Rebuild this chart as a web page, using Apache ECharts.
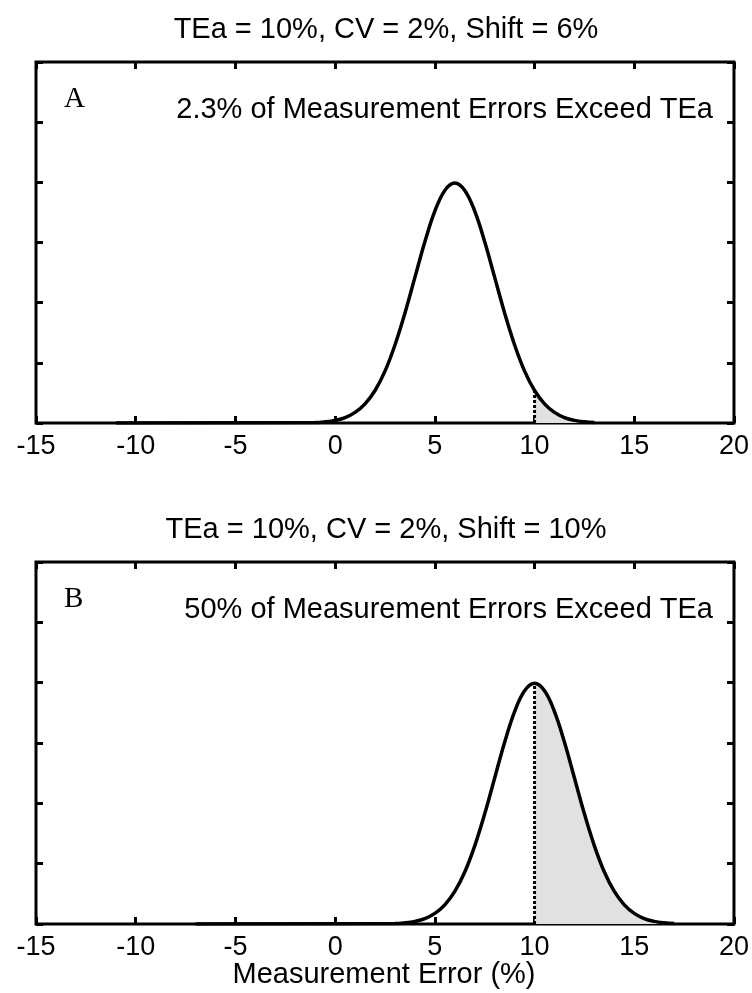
<!DOCTYPE html>
<html>
<head>
<meta charset="utf-8">
<script src="https://cdn.jsdelivr.net/npm/echarts@6/dist/echarts.min.js"></script>
<style>
html,body{margin:0;padding:0;background:#fff;}
#chart{width:752px;height:993px;}
</style>
</head>
<body>
<div id="chart"></div>
<script>
// ---- data ----
const xTicks = [-15, -10, -5, 0, 5, 10, 15, 20];
const yTicks = [0, 0.05, 0.1, 0.15, 0.2, 0.25, 0.3];
const tea = 10;

const panelTitles = ['TEa = 10%, CV = 2%, Shift = 6%', 'TEa = 10%, CV = 2%, Shift = 10%'];
const panelLetters = ['A', 'B'];
const panelNotes = ['2.3% of Measurement Errors Exceed TEa', '50% of Measurement Errors Exceed TEa'];
const xAxisName = 'Measurement Error (%)';

// Panel A: error distribution (shift 6%)
const errorA = [-11, -1, -0.5, 0, 0.5, 1, 1.5, 2, 2.5, 3, 3.5, 4, 4.5, 5, 5.5, 6,
  6.5, 7, 7.5, 8, 8.5, 9, 9.5, 10, 10.5, 11, 11.5, 12, 12.5, 13];
const densityA = [0, 0.0004, 0.0010, 0.0022, 0.0045, 0.0088, 0.0159, 0.0270, 0.0431, 0.0648, 0.0913, 0.1210, 0.1506, 0.1760, 0.1933, 0.1995,
  0.1933, 0.1760, 0.1506, 0.1210, 0.0913, 0.0648, 0.0431, 0.0270, 0.0159, 0.0088, 0.0045, 0.0022, 0.0010, 0.0004];

// Panel B: error distribution (shift 10%)
const errorB = [-7, 3, 3.5, 4, 4.5, 5, 5.5, 6, 6.5, 7, 7.5, 8, 8.5, 9, 9.5, 10,
  10.5, 11, 11.5, 12, 12.5, 13, 13.5, 14, 14.5, 15, 15.5, 16, 16.5, 17];
const densityB = [0, 0.0004, 0.0010, 0.0022, 0.0045, 0.0088, 0.0159, 0.0270, 0.0431, 0.0648, 0.0913, 0.1210, 0.1506, 0.1760, 0.1933, 0.1995,
  0.1933, 0.1760, 0.1506, 0.1210, 0.0913, 0.0648, 0.0431, 0.0270, 0.0159, 0.0088, 0.0045, 0.0022, 0.0010, 0.0004];

// ---- chart ----
const SANS = '"Liberation Sans", Arial, Helvetica, sans-serif';
const SERIF = '"Liberation Serif", "Times New Roman", serif';
const chart = echarts.init(document.getElementById('chart'), null, {renderer: 'canvas'});

const grids = [
  {left: 36, top: 62, width: 699, height: 361},
  {left: 36, top: 562, width: 699, height: 362}
];

function pairs(xs, ys) { return xs.map((x, i) => [x, ys[i]]); }
function tail(xs, ys) { return pairs(xs, ys).filter(p => p[0] >= tea); }
function valueAt(xs, ys) { return ys[xs.indexOf(tea)]; }

const tick = {show: true, inside: true, length: 7, lineStyle: {color: '#000', width: 3}};
const xAxes = [], yAxes = [];
grids.forEach((g, gi) => {
  ['bottom', 'top'].forEach(pos => {
    xAxes.push({
      gridIndex: gi, type: 'value', position: pos,
      min: xTicks[0], max: xTicks[xTicks.length - 1], interval: xTicks[1] - xTicks[0],
      axisLine: {show: false, onZero: false},
      axisTick: tick,
      splitLine: {show: false},
      axisLabel: pos === 'bottom'
        ? {show: true, fontSize: 27, color: '#000', fontFamily: SANS, margin: 10, showMinLabel: true, showMaxLabel: true}
        : {show: false}
    });
  });
  ['left', 'right'].forEach(pos => {
    yAxes.push({
      gridIndex: gi, type: 'value', position: pos,
      min: yTicks[0], max: yTicks[yTicks.length - 1], interval: yTicks[1] - yTicks[0],
      axisLine: {show: false, onZero: false},
      axisTick: tick,
      splitLine: {show: false},
      axisLabel: {show: false}
    });
  });
});

const curves = [[errorA, densityA], [errorB, densityB]];
const series = [];
curves.forEach(([xs, ys], gi) => {
  const xi = gi * 2, yi = gi * 2;
  series.push({
    type: 'line', xAxisIndex: xi, yAxisIndex: yi, data: tail(xs, ys),
    smooth: 0.4, showSymbol: false, symbol: 'none',
    lineStyle: {width: 0, opacity: 0},
    areaStyle: {color: '#e1e1e1', opacity: 1}, z: 1, silent: true
  });
  series.push({
    type: 'line', xAxisIndex: xi, yAxisIndex: yi,
    data: [[tea, 0], [tea, valueAt(xs, ys)]],
    showSymbol: false, symbol: 'none',
    lineStyle: {color: '#000', width: 3, type: [3, 2]}, z: 2, silent: true
  });
  series.push({
    type: 'line', xAxisIndex: xi, yAxisIndex: yi, data: pairs(xs, ys),
    smooth: 0.4, showSymbol: false, symbol: 'none',
    lineStyle: {color: '#000', width: 3.5}, z: 3, silent: true
  });
});

const graphics = [];
[0, 1].forEach(gi => {
  const dy = gi * 500;
  graphics.push({type: 'text', x: 386, y: 30 + dy, style: {
    text: panelTitles[gi], font: '29px ' + SANS, fill: '#000', textAlign: 'center', textVerticalAlign: 'middle'}});
  graphics.push({type: 'text', x: 713, y: 110 + dy, style: {
    text: panelNotes[gi], font: '29px ' + SANS, fill: '#000', textAlign: 'right', textVerticalAlign: 'middle'}});
  graphics.push({type: 'text', x: 64, y: 99 + dy, style: {
    text: panelLetters[gi], font: '29px ' + SERIF, fill: '#000', textAlign: 'left', textVerticalAlign: 'middle'}});
});
graphics.push({type: 'text', x: 384, y: 975, style: {
  text: xAxisName, font: '29px ' + SANS, fill: '#000', textAlign: 'center', textVerticalAlign: 'middle'}});

chart.setOption({
  animation: false,
  backgroundColor: '#fff',
  grid: grids.map(g => Object.assign({show: true, borderColor: '#000', borderWidth: 3, backgroundColor: 'transparent'}, g)),
  xAxis: xAxes,
  yAxis: yAxes,
  series: series,
  graphic: graphics
});
</script>
</body>
</html>
